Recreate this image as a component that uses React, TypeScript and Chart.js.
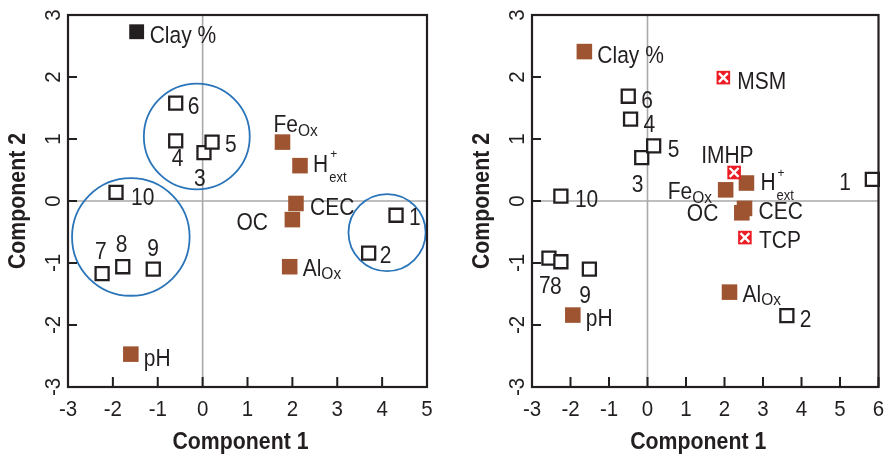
import React, { useEffect, useRef } from 'react';
import { Chart, registerables } from 'chart.js';
Chart.register(...registerables);

const FONT = "'Liberation Sans', Arial, Helvetica, sans-serif";
const INK = '#231f20';
const BROWN = '#9e5430';
const RED = '#ec1c24';
const BLUE = '#2a74b9';
const GRAY = '#a9a9a9';
const STRETCH = 1.1; // glyphs in the original are slightly taller than Arial

// ---------- shared ticks ----------
const yTicks = [-3, -2, -1, 0, 1, 2, 3];
const leftXTicks = [-3, -2, -1, 0, 1, 2, 3, 4, 5];
const rightXTicks = [-3, -2, -1, 0, 1, 2, 3, 4, 5, 6];

// ---------- left panel data ----------
const leftSampleLabels = ['1', '2', '3', '4', '5', '6', '7', '8', '9', '10'];
const leftSampleX = [4.31, 3.7, 0.03, -0.6, 0.21, -0.6, -2.24, -1.78, -1.1, -1.93];
const leftSampleY = [-0.23, -0.84, 0.78, 0.97, 0.95, 1.58, -1.17, -1.06, -1.1, 0.14];

const leftClayLabels = ['Clay %'];
const leftClayX = [-1.47];
const leftClayY = [2.73];

const leftVarLabels = ['Fe_{Ox}', 'H^{+}_{ext}', 'CEC', 'OC', 'Al_{Ox}', 'pH'];
const leftVarX = [1.78, 2.17, 2.08, 2.0, 1.94, -1.6];
const leftVarY = [0.95, 0.57, -0.04, -0.3, -1.06, -2.47];

const leftGroupX = [-0.13, -1.6, 4.11];
const leftGroupY = [1.04, -0.58, -0.51];
const leftGroupR = [1.18, 1.31, 0.86]; // radius in Component-1 units

// ---------- right panel data ----------
const rightSampleLabels = ['1', '2', '3', '4', '5', '6', '7', '8', '9', '10'];
const rightSampleX = [5.84, 3.62, -0.15, -0.44, 0.16, -0.5, -2.56, -2.25, -1.51, -2.25];
const rightSampleY = [0.35, -1.85, 0.7, 1.32, 0.89, 1.69, -0.92, -0.98, -1.1, 0.08];

const rightVarLabels = ['Clay %', 'Fe_{Ox}', 'H^{+}_{ext}', 'CEC', 'OC', 'Al_{Ox}', 'pH'];
const rightVarX = [-1.64, 2.03, 2.57, 2.52, 2.45, 2.13, -1.94];
const rightVarY = [2.41, 0.18, 0.29, -0.12, -0.19, -1.47, -1.84];

const rightModelLabels = ['MSM', 'IMHP', 'TCP'];
const rightModelX = [1.97, 2.25, 2.53];
const rightModelY = [1.99, 0.46, -0.59];

// ---------- label placement (pixel offsets from marker centre) ----------
const leftSampleOffsets = [[13, 3], [11, 4], [-10, 27], [-4, 19], [13, 4], [12, 5], [-7, -21], [-7, -21], [-6, -20], [15, 6]];
const leftClayOffsets = [[13, 5]];
const leftVarOffsets = [[-9, -16], [13, 0], [14, 5], [-56, 4], [13, 3], [13, 5]];

const rightSampleOffsets = [[-33, 4], [13, 5], [-10, 28], [13, 6], [14, 5], [13, 5], [-10, 29], [-11, 26], [-10, 27], [14, 5]];
const rightVarOffsets = [[13, 5], [-58, 3], [14, 1], [14, 4], [-55, 2], [13, 3], [13, 5]];
const rightModelOffsets = [[14, 5], [-33, -16], [14, 4]];

type Lbl = { x: number; y: number; text: string; dx: number; dy: number };

function toPts(xs: number[], ys: number[]) {
  return xs.map((x, i) => ({ x, y: ys[i] }));
}
function toLabels(names: string[], xs: number[], ys: number[], offs: number[][]): Lbl[] {
  return names.map((t, i) => ({ x: xs[i], y: ys[i], text: t, dx: offs[i][0], dy: offs[i][1] }));
}

function tallText(ctx: CanvasRenderingContext2D, text: string, x: number, y: number, rot = 0) {
  ctx.save();
  ctx.translate(x, y);
  if (rot) ctx.rotate(rot);
  ctx.scale(1, STRETCH);
  ctx.fillText(text, 0, 0);
  ctx.restore();
}

function drawRich(ctx: CanvasRenderingContext2D, text: string, x: number, y: number) {
  const re = /([^_^]+)|_\{([^}]*)\}|\^\{([^}]*)\}/g;
  let m: RegExpExecArray | null;
  let cx = x;
  const hasSup = text.indexOf('^{') >= 0;
  let supStart = -1;
  ctx.textBaseline = 'middle';
  ctx.textAlign = 'left';
  ctx.fillStyle = INK;
  while ((m = re.exec(text))) {
    if (m[1] !== undefined) {
      ctx.font = `21px ${FONT}`;
      tallText(ctx, m[1], cx, y);
      cx += ctx.measureText(m[1]).width;
    } else if (m[3] !== undefined) {
      ctx.font = `12px ${FONT}`;
      supStart = cx + 2;
      tallText(ctx, m[3], supStart, y - 11);
    } else if (m[2] !== undefined) {
      if (hasSup) {
        ctx.font = `13px ${FONT}`;
        const sx = supStart >= 0 ? supStart - 1 : cx;
        tallText(ctx, m[2], sx, y + 12);
        cx = sx + ctx.measureText(m[2]).width;
      } else {
        ctx.font = `15.5px ${FONT}`;
        tallText(ctx, m[2], cx, y + 5);
        cx += ctx.measureText(m[2]).width;
      }
    }
  }
}

type Spec = {
  xMin: number;
  xMax: number;
  xTicks: number[];
  padding: { left: number; top: number; right: number; bottom: number };
  datasets: any[];
  labels: Lbl[];
  circles: { x: number; y: number; r: number }[];
};

function buildChart(canvas: HTMLCanvasElement, spec: Spec) {
  const deco = {
    id: 'deco',
    beforeDatasetsDraw(chart: any) {
      const { ctx, chartArea: a, scales } = chart;
      const xs = scales.x, ys = scales.y;
      ctx.save();
      ctx.strokeStyle = GRAY;
      ctx.lineWidth = 1.6;
      const x0 = xs.getPixelForValue(0);
      const y0 = ys.getPixelForValue(0);
      ctx.beginPath();
      ctx.moveTo(x0, a.top);
      ctx.lineTo(x0, a.bottom);
      ctx.moveTo(a.left, y0);
      ctx.lineTo(a.right, y0);
      ctx.stroke();
      ctx.strokeStyle = BLUE;
      ctx.lineWidth = 1.8;
      spec.circles.forEach((c) => {
        const cx = xs.getPixelForValue(c.x);
        const cy = ys.getPixelForValue(c.y);
        const r = Math.abs(xs.getPixelForValue(c.x + c.r) - cx);
        ctx.beginPath();
        ctx.arc(cx, cy, r, 0, Math.PI * 2);
        ctx.stroke();
      });
      ctx.restore();
    },
    afterDatasetsDraw(chart: any) {
      const { ctx, chartArea: a, scales } = chart;
      const xs = scales.x, ys = scales.y;
      ctx.save();
      // frame
      ctx.strokeStyle = INK;
      ctx.lineWidth = 2.2;
      ctx.strokeRect(a.left, a.top, a.right - a.left, a.bottom - a.top);
      // inward ticks
      ctx.lineWidth = 2;
      ctx.beginPath();
      spec.xTicks.forEach((t) => {
        const px = xs.getPixelForValue(t);
        ctx.moveTo(px, a.bottom);
        ctx.lineTo(px, a.bottom - 10);
      });
      yTicks.forEach((t) => {
        const py = ys.getPixelForValue(t);
        ctx.moveTo(a.left, py);
        ctx.lineTo(a.left + 9, py);
      });
      ctx.stroke();
      // tick labels
      ctx.fillStyle = INK;
      ctx.font = `20.5px ${FONT}`;
      ctx.textAlign = 'center';
      ctx.textBaseline = 'middle';
      spec.xTicks.forEach((t) => {
        tallText(ctx, String(t), xs.getPixelForValue(t), a.bottom + 23);
      });
      yTicks.forEach((t) => {
        tallText(ctx, String(t), a.left - 14, ys.getPixelForValue(t), -Math.PI / 2);
      });
      // axis titles
      ctx.font = `bold 21.3px ${FONT}`;
      tallText(ctx, 'Component 1', (a.left + a.right) / 2 - 7, a.bottom + 56);
      tallText(ctx, 'Component 2', a.left - 49, (a.top + a.bottom) / 2, -Math.PI / 2);
      // point labels
      spec.labels.forEach((l) => {
        drawRich(ctx, l.text, xs.getPixelForValue(l.x) + l.dx, ys.getPixelForValue(l.y) + l.dy);
      });
      ctx.restore();
    },
  };

  return new Chart(canvas, {
    type: 'scatter',
    data: { datasets: spec.datasets },
    options: {
      animation: false,
      responsive: false,
      events: [],
      layout: { padding: spec.padding },
      plugins: { legend: { display: false }, tooltip: { enabled: false } },
      scales: {
        x: { type: 'linear', min: spec.xMin, max: spec.xMax, display: false },
        y: { type: 'linear', min: -3, max: 3, display: false },
      },
    },
    plugins: [deco],
  } as any);
}

const sampleStyle = {
  pointStyle: 'rect',
  pointRadius: 9.2,
  backgroundColor: '#ffffff',
  borderColor: INK,
  borderWidth: 2.3,
  clip: false,
};
const varStyle = {
  pointStyle: 'rect',
  pointRadius: 11,
  backgroundColor: BROWN,
  borderWidth: 0,
  clip: false,
};

export default function App() {
  const leftRef = useRef<HTMLCanvasElement>(null);
  const rightRef = useRef<HTMLCanvasElement>(null);

  useEffect(() => {
    // note: Chart.js paints the first dataset last (on top)
    const left = buildChart(leftRef.current!, {
      xMin: -3,
      xMax: 5,
      xTicks: leftXTicks,
      padding: { left: 68, top: 15, right: 18, bottom: 67 },
      circles: leftGroupX.map((x, i) => ({ x, y: leftGroupY[i], r: leftGroupR[i] })),
      datasets: [
        { label: 'Variables', data: toPts(leftVarX, leftVarY), ...varStyle },
        { label: 'Clay', data: toPts(leftClayX, leftClayY), ...varStyle, pointRadius: 10.5, backgroundColor: INK },
        { label: 'Samples', data: toPts(leftSampleX, leftSampleY), ...sampleStyle },
      ],
      labels: [
        ...toLabels(leftSampleLabels, leftSampleX, leftSampleY, leftSampleOffsets),
        ...toLabels(leftClayLabels, leftClayX, leftClayY, leftClayOffsets),
        ...toLabels(leftVarLabels, leftVarX, leftVarY, leftVarOffsets),
      ],
    });
    const right = buildChart(rightRef.current!, {
      xMin: -3,
      xMax: 6,
      xTicks: rightXTicks,
      padding: { left: 87, top: 15, right: 2, bottom: 67 },
      circles: [],
      datasets: [
        { label: 'ModelsX', data: toPts(rightModelX, rightModelY), pointStyle: 'crossRot', pointRadius: 6.3, borderColor: '#ffffff', pointBorderColor: '#ffffff', borderWidth: 2.4, pointBorderWidth: 2.4, clip: false },
        { label: 'Models', data: toPts(rightModelX, rightModelY), pointStyle: 'rect', pointRadius: 9.6, backgroundColor: RED, borderWidth: 0, clip: false },
        { label: 'Variables', data: toPts(rightVarX, rightVarY), ...varStyle },
        { label: 'Samples', data: toPts(rightSampleX, rightSampleY), ...sampleStyle },
      ],
      labels: [
        ...toLabels(rightSampleLabels, rightSampleX, rightSampleY, rightSampleOffsets),
        ...toLabels(rightVarLabels, rightVarX, rightVarY, rightVarOffsets),
        ...toLabels(rightModelLabels, rightModelX, rightModelY, rightModelOffsets),
      ],
    });
    return () => {
      left.destroy();
      right.destroy();
    };
  }, []);

  return (
    <div style={{ position: 'absolute', left: 0, top: 0, width: 890, height: 454, display: 'flex', background: '#ffffff' }}>
      <div style={{ width: 445, height: 454 }}>
        <canvas ref={leftRef} width={445} height={454} style={{ display: 'block' }} />
      </div>
      <div style={{ width: 445, height: 454 }}>
        <canvas ref={rightRef} width={445} height={454} style={{ display: 'block' }} />
      </div>
    </div>
  );
}
